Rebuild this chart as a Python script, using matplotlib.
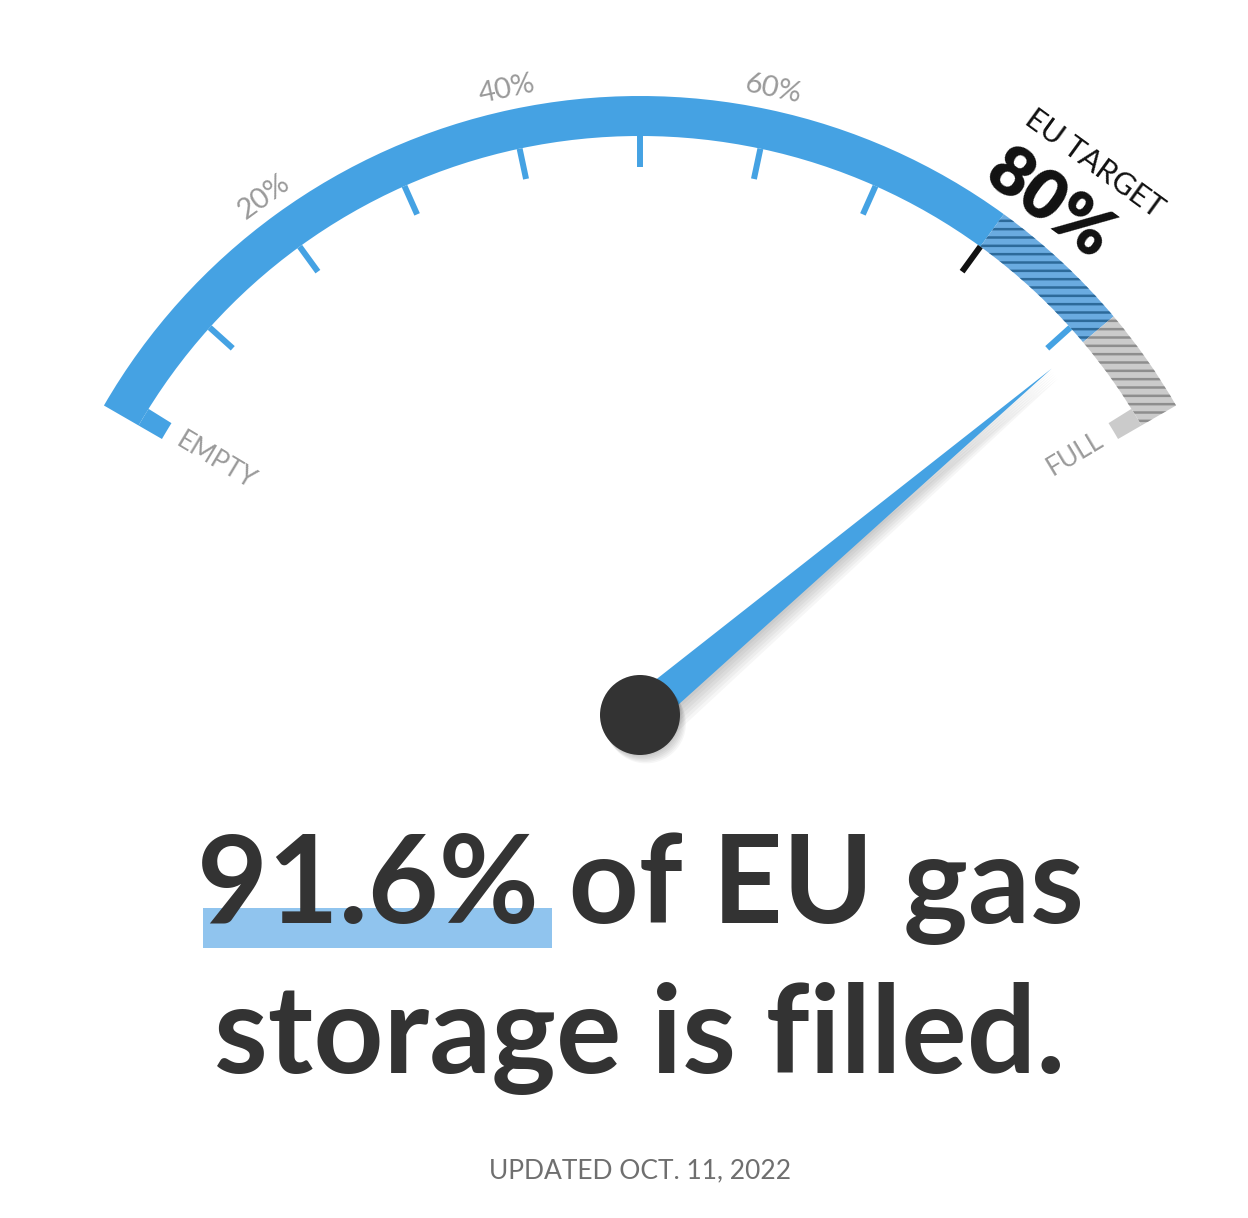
import numpy as np
import matplotlib
matplotlib.use('Agg')
import matplotlib.pyplot as plt
from matplotlib.patches import Wedge, Circle, Polygon, Rectangle

# values
fill_pct = 91.6
target_pct = 80
tick_pcts = [10, 20, 30, 40, 50, 60, 70, 80, 90]
label_pcts = [20, 40, 60]
label_texts = ['20%', '40%', '60%']
headline_value = '91.6%'
headline_rest = ' of EU gas'
headline_line2 = 'storage is filled.'
updated_text = 'UPDATED OCT. 11, 2022'

blue = '#45a2e3'
blue_hatch_bg = '#6aabe0'
blue_stripe = '#2d6a9a'
gray_bg = '#cbcbcb'
gray_stripe = '#8e8e8e'
dark = '#333333'
label_gray = '#9a9a9a'

plt.rcParams['hatch.linewidth'] = 1.8

fig = plt.figure(figsize=(12.48, 12.18), dpi=100)
ax = fig.add_axes([0, 0, 1, 1])
ax.set_xlim(0, 1248)
ax.set_ylim(0, 1218)
ax.axis('off')

cx, cy = 640, 503
r_out, r_in = 619, 579


def ang(p):
    # 0% at 150 deg, 100% at 30 deg
    return 150 - 1.2 * p


def pt(r, a):
    return cx + r * np.cos(np.radians(a)), cy + r * np.sin(np.radians(a))


# arc: solid part up to target
ax.add_patch(Wedge((cx, cy), r_out, ang(target_pct), ang(0), width=r_out - r_in,
                   fc=blue, ec='none'))
# hatched blue from target to fill level
ax.add_patch(Wedge((cx, cy), r_out, ang(fill_pct), ang(target_pct), width=r_out - r_in,
                   fc=blue_hatch_bg, ec='none'))
ax.add_patch(Wedge((cx, cy), r_out, ang(fill_pct), ang(target_pct), width=r_out - r_in,
                   fc='none', ec=blue_stripe, lw=0, hatch='--'))
# hatched gray for the rest
ax.add_patch(Wedge((cx, cy), r_out, ang(100), ang(fill_pct), width=r_out - r_in,
                   fc=gray_bg, ec='none'))
ax.add_patch(Wedge((cx, cy), r_out, ang(100), ang(fill_pct), width=r_out - r_in,
                   fc='none', ec=gray_stripe, lw=0, hatch='--'))

# end tabs
ax.add_patch(Wedge((cx, cy), r_in, ang(1.6), ang(0), width=27, fc=blue, ec='none'))
ax.add_patch(Wedge((cx, cy), r_in, ang(100), ang(98.4), width=27, fc=gray_bg, ec='none'))

# ticks
for p in tick_pcts:
    a = ang(p)
    x0, y0 = pt(r_in, a)
    x1, y1 = pt(r_in - 31, a)
    c = '#111111' if p == target_pct else blue
    ax.plot([x0, x1], [y0, y1], color=c, lw=4.3, solid_capstyle='butt')

# percent labels
for p, t in zip(label_pcts, label_texts):
    a = ang(p)
    x, y = pt(640, a)
    ax.text(x, y, t, rotation=a - 90, rotation_mode='anchor', ha='center', va='center',
            fontsize=21, color=label_gray, family='Lato')

a = ang(0.8)
x, y = pt(538, a)
ax.text(x, y, 'EMPTY', rotation=a - 180, rotation_mode='anchor', ha='left', va='center',
        fontsize=19, color=label_gray, family='Lato')
a = ang(99.2)
x, y = pt(538, a)
ax.text(x, y, 'FULL', rotation=a, rotation_mode='anchor', ha='right', va='center',
        fontsize=19, color=label_gray, family='Lato')

# EU target
a = ang(target_pct)
x, y = pt(715, a - 3.5)
ax.text(x, y, 'EU TARGET', rotation=a - 90, rotation_mode='anchor', ha='center', va='center',
        fontsize=22, color='#111111', family='Lato')
x, y = pt(653, a - 2.7)
ax.text(x, y, f'{target_pct}%', rotation=a - 90, rotation_mode='anchor', ha='center',
        va='center', fontsize=50, color='#111111', family='Lato', fontweight='heavy')

# needle
a = np.radians(ang(fill_pct))
d = np.array([np.cos(a), np.sin(a)])
n = np.array([-np.sin(a), np.cos(a)])
tip = np.array([cx, cy]) + 538 * d
b1 = np.array([cx, cy]) + 18 * n
b2 = np.array([cx, cy]) - 18 * n
for k in range(1, 7):
    off = np.array([2.0, -2.6]) * k
    ax.add_patch(Polygon([b1 + off, tip + off * 0.6, b2 + off], closed=True,
                         fc='black', ec='none', alpha=0.035))
ax.add_patch(Polygon([b1, tip, b2], closed=True, fc=blue, ec='none'))

# hub
for k in range(1, 7):
    ax.add_patch(Circle((cx + 1.0 * k, cy - 1.4 * k), 40, fc='black', ec='none', alpha=0.035))
ax.add_patch(Circle((cx, cy), 40, fc=dark, ec='none'))

# headline
hl_font = dict(family='Lato', fontweight='bold', fontsize=88, color=dark)
t1 = ax.text(640, 295, headline_value + headline_rest, ha='center', va='baseline', **hl_font)
ax.text(640, 145, headline_line2, ha='center', va='baseline', **hl_font)

fig.canvas.draw()
r = fig.canvas.get_renderer()
bb_line = t1.get_window_extent(r)
tmp = ax.text(0, 0, headline_value, **hl_font)
w_val = tmp.get_window_extent(r).width
tmp.remove()
ax.add_patch(Rectangle((bb_line.x0 + 6, 295 - 25), w_val + 8, 40, fc='#90c4ee', ec='none',
                       zorder=0))

ax.text(640, 40, updated_text, ha='center', va='baseline', fontsize=19, color='#6f6f6f',
        family='Lato')

fig.savefig('out.png', dpi=100, facecolor='white')
